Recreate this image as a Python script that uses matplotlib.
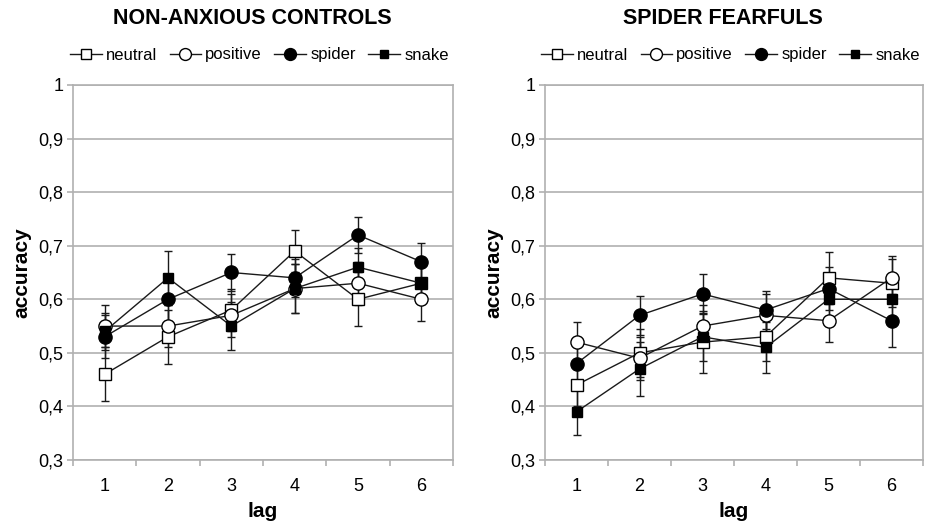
import matplotlib
matplotlib.use("Agg")
import matplotlib.pyplot as plt
from matplotlib.lines import Line2D

plt.rcParams['font.family'] = ['Liberation Sans', 'DejaVu Sans']

lags = [1, 2, 3, 4, 5, 6]
conditions = ["neutral", "positive", "spider", "snake"]

controls_neutral = [0.46, 0.53, 0.58, 0.69, 0.60, 0.63]
controls_positive = [0.55, 0.55, 0.57, 0.62, 0.63, 0.60]
controls_spider = [0.53, 0.60, 0.65, 0.64, 0.72, 0.67]
controls_snake = [0.54, 0.64, 0.55, 0.62, 0.66, 0.63]
controls_neutral_err = [0.05, 0.05, 0.04, 0.04, 0.05, 0.035]
controls_positive_err = [0.04, 0.04, 0.04, 0.045, 0.04, 0.04]
controls_spider_err = [0.04, 0.04, 0.035, 0.035, 0.033, 0.035]
controls_snake_err = [0.035, 0.05, 0.045, 0.045, 0.035, 0.035]

fearful_neutral = [0.44, 0.50, 0.52, 0.53, 0.64, 0.63]
fearful_positive = [0.52, 0.49, 0.55, 0.57, 0.56, 0.64]
fearful_spider = [0.48, 0.57, 0.61, 0.58, 0.62, 0.56]
fearful_snake = [0.39, 0.47, 0.53, 0.51, 0.60, 0.60]
fearful_neutral_err = [0.04, 0.045, 0.058, 0.045, 0.049, 0.045]
fearful_positive_err = [0.037, 0.04, 0.04, 0.04, 0.04, 0.04]
fearful_spider_err = [0.04, 0.037, 0.038, 0.035, 0.04, 0.05]
fearful_snake_err = [0.043, 0.05, 0.045, 0.048, 0.04, 0.04]

titles = ["NON-ANXIOUS CONTROLS", "SPIDER FEARFULS"]
yticks = [0.3, 0.4, 0.5, 0.6, 0.7, 0.8, 0.9, 1.0]
ytick_labels = ["0,3", "0,4", "0,5", "0,6", "0,7", "0,8", "0,9", "1"]

styles = {
    "neutral": dict(marker="s", mfc="white", ms=8.5),
    "positive": dict(marker="o", mfc="white", ms=9.5),
    "spider": dict(marker="o", mfc="black", ms=9.5),
    "snake": dict(marker="s", mfc="black", ms=6.5),
}

panels = [
    ([controls_neutral, controls_positive, controls_spider, controls_snake],
     [controls_neutral_err, controls_positive_err, controls_spider_err, controls_snake_err]),
    ([fearful_neutral, fearful_positive, fearful_spider, fearful_snake],
     [fearful_neutral_err, fearful_positive_err, fearful_spider_err, fearful_snake_err]),
]

fig = plt.figure(figsize=(9.32, 5.25), dpi=100)
ax_rects = [
    [73/932, 1 - 460/525, (453-73)/932, (460-85)/525],
    [545/932, 1 - 460/525, (923-545)/932, (460-85)/525],
]
grid_c = "#b0b0b0"

for i, (rect, (vals, errs)) in enumerate(zip(ax_rects, panels)):
    ax = fig.add_axes(rect)
    for cond, v, e in zip(conditions, vals, errs):
        st = styles[cond]
        ax.errorbar(lags, v, yerr=e, color="#1a1a1a", lw=1.0, elinewidth=1.0,
                    capsize=3, capthick=1.0, marker=st["marker"], ms=st["ms"],
                    mfc=st["mfc"], mec="black", mew=1.0, zorder=3)
    ax.set_xlim(0.5, 6.5)
    ax.set_ylim(0.3, 1.0)
    ax.set_yticks(yticks)
    ax.set_yticklabels(ytick_labels)
    ax.set_xticks(lags)
    ax.set_xticks([0.5, 1.5, 2.5, 3.5, 4.5, 5.5, 6.5], minor=True)
    ax.tick_params(axis="x", which="major", length=0, labelsize=13, pad=13)
    ax.tick_params(axis="x", which="minor", length=4, color=grid_c, width=1.2)
    ax.tick_params(axis="y", length=4, color=grid_c, width=1.2, labelsize=13, pad=3)
    ax.yaxis.grid(True, color=grid_c, lw=1.2)
    ax.set_axisbelow(True)
    for s in ax.spines.values():
        s.set_color(grid_c)
        s.set_linewidth(1.2)
    ax.set_xlabel("lag", fontsize=15, fontweight="bold", labelpad=5)
    ax.set_ylabel("accuracy", fontsize=15, fontweight="bold", labelpad=5)

    handles = []
    for cond in conditions:
        st = styles[cond]
        handles.append(Line2D([0], [0], color="#1a1a1a", lw=1.0, marker=st["marker"],
                              ms=st["ms"] * 0.9, mfc=st["mfc"], mec="black", mew=1.0))
    fig.legend(handles, conditions, loc="center",
               bbox_to_anchor=(rect[0] + rect[2] / 2 - 0.004, 1 - 55/525),
               ncol=4, frameon=False, fontsize=12, handlelength=1.9,
               handletextpad=0.25, columnspacing=0.75, borderaxespad=0)
    fig.text(rect[0] + rect[2] / 2 - 0.012, 1 - 18/525, titles[i], ha="center",
             va="center", fontsize=15.5, fontweight="bold")

fig.savefig("out.png", dpi=100)
